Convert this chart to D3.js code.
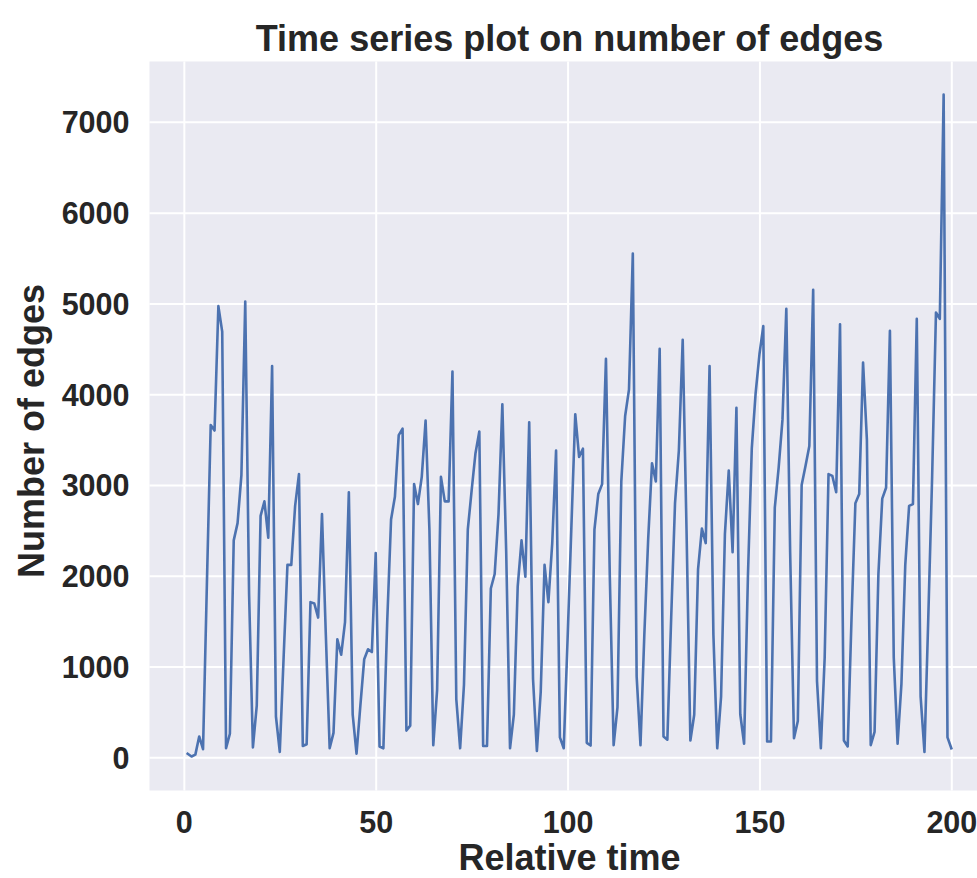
<!DOCTYPE html>
<html>
<head>
<meta charset="utf-8">
<script src="https://cdn.jsdelivr.net/npm/d3@7"></script>
<style>
  html, body { margin: 0; padding: 0; background: #ffffff; }
  svg { display: block; }
  text { font-family: "Liberation Sans", Arial, Helvetica, sans-serif; font-weight: bold; fill: #262626; }
</style>
</head>
<body>
<svg id="chart" width="977" height="878"></svg>
<script>
// ---- data ----
const title = "Time series plot on number of edges";
const xLabel = "Relative time";
const yLabel = "Number of edges";
const xTicks = [0, 50, 100, 150, 200];
const yTicks = [0, 1000, 2000, 3000, 4000, 5000, 6000, 7000];
const timeStart = 1;
const edges = [
  40, 10, 30, 230, 90, 1900, 3660, 3600, 4970, 4690,
  100, 260, 2390, 2580, 3110, 5020, 1800, 110, 570, 2660,
  2820, 2420, 4310, 450, 60, 1100, 2120, 2120, 2770, 3120,
  125, 145, 1710, 1695, 1540, 2680, 1350, 100, 270, 1300,
  1130, 1490, 2920, 470, 40, 570, 1080, 1190, 1160, 2250,
  120, 100, 1500, 2620, 2870, 3550, 3620, 295, 350, 3010,
  2790, 3090, 3710, 2500, 135, 740, 3090, 2820, 2820, 4250,
  640, 100, 800, 2510, 2940, 3350, 3590, 125, 125, 1860,
  2020, 2680, 3890, 2270, 100, 470, 1880, 2390, 1990, 3690,
  860, 70, 720, 2120, 1710, 2360, 3380, 220, 100, 1300,
  2550, 3780, 3310, 3400, 160, 130, 2510, 2900, 3010, 4390,
  2000, 135, 550, 3040, 3760, 4050, 5550, 890, 135, 1350,
  2400, 3240, 3040, 4500, 230, 195, 1540, 2800, 3380, 4600,
  2500, 185, 470, 2070, 2520, 2360, 4310, 1350, 100, 670,
  2460, 3160, 2260, 3850, 475, 150, 2000, 3400, 4010, 4440,
  4750, 175, 175, 2750, 3190, 3720, 4940, 2260, 210, 400,
  3000, 3210, 3430, 5150, 840, 100, 1100, 3120, 3100, 2920,
  4770, 185, 120, 1540, 2800, 2900, 4350, 3500, 135, 280,
  2020, 2850, 2970, 4700, 1100, 150, 810, 2120, 2770, 2790,
  4830, 670, 60, 1540, 3090, 4900, 4830, 7300, 220, 100
];
const times = edges.map((_, i) => timeStart + i);

// ---- layout ----
const plot = { left: 149.5, right: 989.5, top: 61.5, bottom: 790.5 };
const svg = d3.select("#chart");

const x = d3.scaleLinear().domain([-8.95, 209.95]).range([plot.left, plot.right]);
const y = d3.scaleLinear().domain([-365, 7665]).range([plot.bottom, plot.top]);

// background
svg.append("rect")
  .attr("x", plot.left).attr("y", plot.top)
  .attr("width", plot.right - plot.left).attr("height", plot.bottom - plot.top)
  .attr("fill", "#eaeaf2");

// grid via axes
const gx = svg.append("g")
  .attr("transform", `translate(0,${plot.bottom})`)
  .call(d3.axisBottom(x).tickValues(xTicks).tickSize(-(plot.bottom - plot.top)).tickPadding(18).tickFormat(d3.format("d")));
const gy = svg.append("g")
  .attr("transform", `translate(${plot.left},0)`)
  .call(d3.axisLeft(y).tickValues(yTicks).tickSize(-(plot.right - plot.left)).tickPadding(20).tickFormat(d3.format("d")));

[gx, gy].forEach(g => {
  g.select(".domain").remove();
  g.selectAll(".tick line").attr("stroke", "#ffffff").attr("stroke-width", 2);
  g.selectAll(".tick text").attr("font-size", 30.5).attr("fill", "#262626")
    .style("font-family", '"Liberation Sans", Arial, sans-serif').style("font-weight", "bold");
});
gx.selectAll(".tick text").attr("dy", null).attr("y", null)
  .attr("transform", null)
  .each(function() { d3.select(this).attr("y", 0).attr("dy", 0); })
  .attr("y", 833 - plot.bottom);
gy.selectAll(".tick text").attr("dy", "0.36em");

// line
const line = d3.line()
  .x((d, i) => x(times[i]))
  .y(d => y(d));

const clip = svg.append("clipPath").attr("id", "plotclip")
  .append("rect")
  .attr("x", plot.left).attr("y", plot.top)
  .attr("width", plot.right - plot.left).attr("height", plot.bottom - plot.top);

svg.append("path")
  .datum(edges)
  .attr("d", line)
  .attr("fill", "none")
  .attr("stroke", "#4c72b0")
  .attr("stroke-width", 2.6)
  .attr("stroke-linejoin", "round")
  .attr("stroke-linecap", "square")
  .attr("clip-path", "url(#plotclip)");

// title
svg.append("text")
  .attr("x", (plot.left + plot.right) / 2)
  .attr("y", 51)
  .attr("text-anchor", "middle")
  .attr("font-size", 36)
  .text(title);

// x label
svg.append("text")
  .attr("x", (plot.left + plot.right) / 2)
  .attr("y", 870)
  .attr("text-anchor", "middle")
  .attr("font-size", 36)
  .text(xLabel);

// y label
svg.append("text")
  .attr("transform", `translate(44,${(plot.top + plot.bottom) / 2 + 5}) rotate(-90)`)
  .attr("text-anchor", "middle")
  .attr("font-size", 36)
  .text(yLabel);
</script>
</body>
</html>
